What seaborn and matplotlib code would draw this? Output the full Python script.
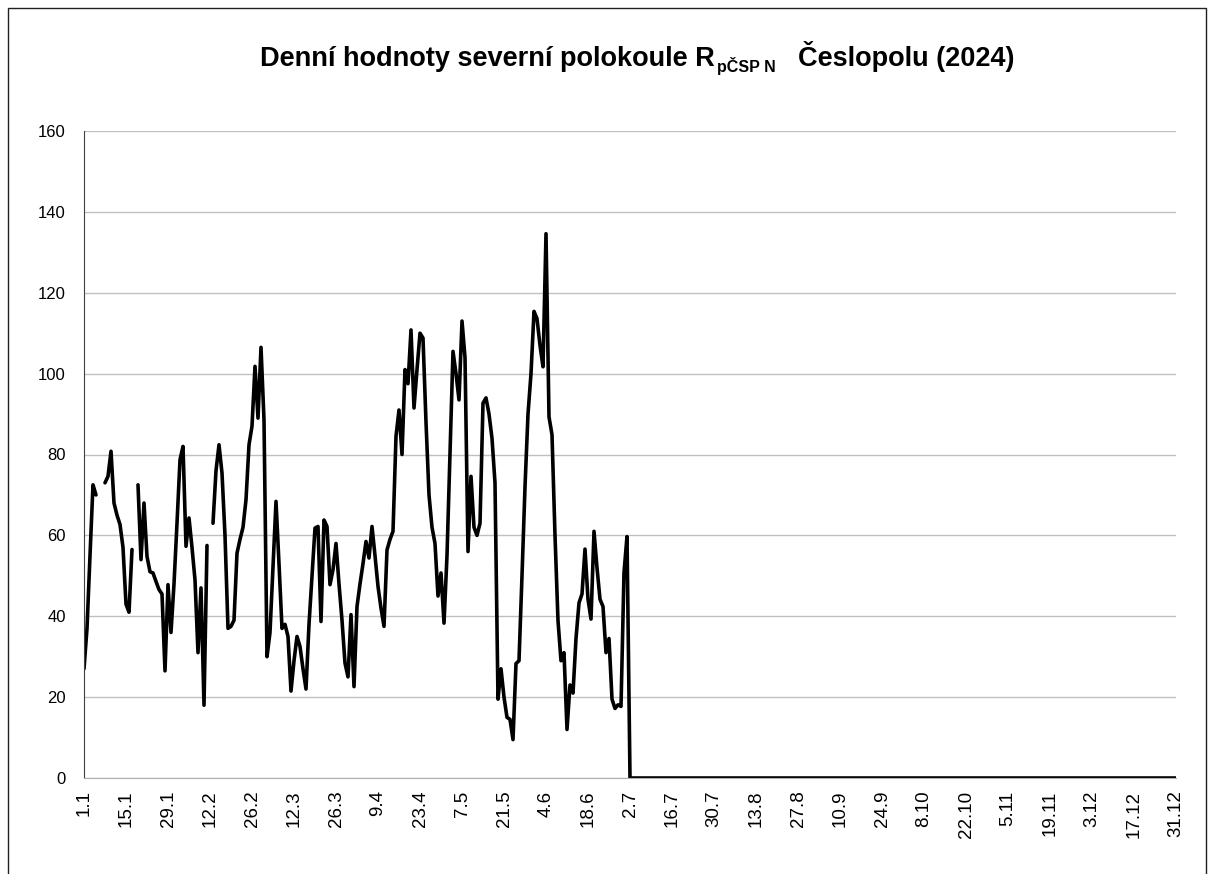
import numpy as np
import pandas as pd
import matplotlib
matplotlib.use("Agg")
import matplotlib.pyplot as plt
import seaborn as sns
from matplotlib.patches import Rectangle

# Daily values 1.1 - 1.7 (nan = day without value)
first_half = [
    27, 37, 55, 72.5, 70, np.nan, np.nan, 73, 74.6, 80.8,
    68, 65, 62.7, 57, 43, 41, 56.5, np.nan, 72.5, 54,
    68, 54.8, 51, 50.7, 48.6, 46.6, 45.5, 26.5, 47.8, 36,
    48, 63, 78.7, 82, 57.3, 64.3, 57, 49, 31, 47,
    18, 57.5, np.nan, 63, 76, 82.4, 75.4, 60, 37, 37.5,
    39, 55.6, 59, 62, 68.8, 82.4, 87, 101.8, 89, 106.5,
    88.6, 30, 36, 52, 68.4, 53, 37, 38, 35, 21.5,
    29, 35, 32.5, 27, 22, 38, 50, 61.8, 62.2, 38.7,
    63.8, 62.2, 47.8, 51.5, 58, 48, 39, 28.4, 25, 40.4,
    22.6, 42.4, 48, 53, 58.5, 54.4, 62.2, 55, 47.4, 42,
    37.5, 56.4, 59, 61, 84.5, 91, 80, 101, 97.5, 110.8,
    91.5, 101, 110, 108.8, 88, 70, 62, 58, 45, 50.7,
    38.3, 55, 80, 105.5, 100, 93.5, 113, 104, 56, 74.6,
    62, 60, 63, 92.7, 94, 90, 84, 73, 19.5, 27,
    20, 15, 14.5, 9.5, 28.3, 29, 50, 72, 90, 100,
    115.4, 113.6, 107, 101.7, 134.6, 89.3, 84.9, 60, 38.9, 29,
    31, 12, 23, 21, 34.5, 43.3, 45.5, 56.6, 44.2, 39.3,
    61, 52, 44.2, 42.4, 31, 34.5, 19.5, 17.2, 18.1, 17.7,
    50.8, 59.7,
]
# 2.7 - 31.12: all zero in the chart
second_half = [0.0] * 183

tick_labels = ["1.1", "15.1", "29.1", "12.2", "26.2", "12.3", "26.3", "9.4",
               "23.4", "7.5", "21.5", "4.6", "18.6", "2.7", "16.7", "30.7",
               "13.8", "27.8", "10.9", "24.9", "8.10", "22.10", "5.11",
               "19.11", "3.12", "17.12", "31.12"]
y_ticks = [0, 20, 40, 60, 80, 100, 120, 140, 160]

values = first_half + second_half
df = pd.DataFrame({"day": np.arange(len(values)), "value": values})
# split into pieces at missing days so the line breaks there
df["segment"] = df["value"].isna().cumsum()
df = df.dropna()

sns.set_style("white")
plt.rcParams["font.family"] = ["Liberation Sans", "DejaVu Sans"]
plt.rcParams["text.color"] = "black"

W, H = 1208, 874
fig = plt.figure(figsize=(W / 100, H / 100), dpi=100)
ax = fig.add_axes([84 / W, 1 - 778 / H, (1176 - 84) / W, (778 - 131) / H])

sns.lineplot(data=df, x="day", y="value", units="segment", estimator=None,
             color="black", linewidth=2.6, ax=ax)

ax.set_xlim(0, len(values) - 1)
ax.set_ylim(0, 160)
ax.set_yticks(y_ticks)
ax.set_xticks(np.arange(len(tick_labels)) * 14)
ax.set_xticklabels(tick_labels, rotation=90)
ax.set_xlabel("")
ax.set_ylabel("")

ax.yaxis.grid(True, color="#c0c0c0", linewidth=1)
ax.set_axisbelow(True)
for s in ["top", "right"]:
    ax.spines[s].set_visible(False)
ax.spines["left"].set_color("#404040")
ax.spines["bottom"].set_color("#b0b0b0")
ax.tick_params(axis="y", direction="out", length=5, width=1, color="#404040",
               labelsize=12, pad=8, labelcolor="black")
ax.tick_params(axis="x", direction="out", length=5, width=1, color="#b0b0b0",
               labelsize=13.5, pad=4, labelcolor="black")

# title with subscript, built from pieces
renderer = fig.canvas.get_renderer()
base_y = 1 - 66 / H
t1 = fig.text(260 / W, base_y, "Denní hodnoty severní polokoule R",
              fontsize=19.5, fontweight="bold", va="baseline", ha="left")
bb1 = t1.get_window_extent(renderer)
t2 = fig.text((bb1.x1 + 2) / W, base_y - 6 / H, "pČSP N",
              fontsize=11.5, fontweight="bold", va="baseline", ha="left")
fig.text(1015 / W, base_y, "Česlopolu (2024)",
         fontsize=19.5, fontweight="bold", va="baseline", ha="right")

# chart area border
fig.patches.append(Rectangle((8 / W, -0.02), (1206 - 8) / W, 1 - 8 / H + 0.02,
                             transform=fig.transFigure, fill=False,
                             edgecolor="#202020", linewidth=1))

fig.savefig("out.png", dpi=100)
